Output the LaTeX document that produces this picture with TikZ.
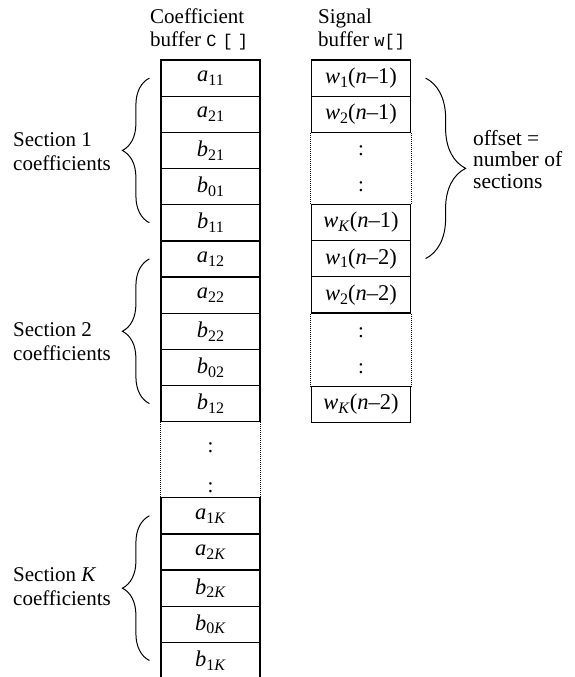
\documentclass[tikz,border=0pt]{standalone}
\usepackage{fontspec}
\setmainfont{Liberation Serif}
\setmonofont{Liberation Mono}
\usetikzlibrary{decorations.pathreplacing}
\newcommand{\lsub}[1]{\raisebox{-3.8pt}{\fontsize{16}{16}\selectfont #1}}
\newcommand{\cv}[2]{\textit{#1}\lsub{#2}}
\newcommand{\wv}[3]{\textit{w}\lsub{#1}(\textit{n}–#2)#3}
\begin{document}
\begin{tikzpicture}[x=1pt,y=-1pt,
  every node/.style={font=\fontsize{21}{23.5}\selectfont},
  cell/.style={draw,line width=1.2pt,minimum width=99pt,minimum height=36.2pt,inner sep=0pt,font=\fontsize{22.5}{23.5}\selectfont},
  dotside/.style={line width=0.9pt,dash pattern=on 0.9pt off 1.1pt},
  brc/.style={decorate,decoration={brace,amplitude=#1},line width=1pt},
  lbl/.style={align=left,inner sep=0pt,anchor=base west},
  colon/.style={inner sep=0pt}]
\useasboundingbox (0,0) rectangle (574,677);
\clip (0,0) rectangle (574,677);
% titles (anchor = baseline of last line)
\node[lbl] (tc) at (150,47) {Coefficient\\buffer \texttt{\fontsize{17}{17}\selectfont C\hspace{6pt}[\hspace{5pt}]}};
\node[lbl] (tw) at (318,47) {Signal\\buffer \texttt{\fontsize{17}{17}\selectfont w[]}};
% coefficient buffer
\node[cell] (a11) at (210.5,78.1) {\cv{a}{11}};
\node[cell] (a21) at (210.5,114.3) {\cv{a}{21}};
\node[cell] (b21) at (210.5,150.4) {\cv{b}{21}};
\node[cell] (b01) at (210.5,186.6) {\cv{b}{01}};
\node[cell] (b11) at (210.5,222.8) {\cv{b}{11}};
\node[cell] (a12) at (210.5,258.9) {\cv{a}{12}};
\node[cell] (a22) at (210.5,295.1) {\cv{a}{22}};
\node[cell] (b22) at (210.5,331.3) {\cv{b}{22}};
\node[cell] (b02) at (210.5,367.4) {\cv{b}{02}};
\node[cell] (b12) at (210.5,403.6) {\cv{b}{12}};
\node[colon] (cc1) at (210.5,448) {:};
\node[colon] (cc2) at (210.5,488) {:};
\node[cell] (a1K) at (210.5,515.8) {\cv{a}{1\textit{K}}};
\node[cell] (a2K) at (210.5,552.0) {\cv{a}{2\textit{K}}};
\node[cell] (b2K) at (210.5,588.1) {\cv{b}{2\textit{K}}};
\node[cell] (b0K) at (210.5,624.3) {\cv{b}{0\textit{K}}};
\node[cell] (b1K) at (210.5,660.5) {\cv{b}{1\textit{K}}};
\draw[dotside] (b12.south west) -- (a1K.north west);
\draw[dotside] (b12.south east) -- (a1K.north east);
% signal buffer
\node[cell] (w1a) at (361,78.1) {\wv{1}{1}{}};
\node[cell] (w2a) at (361,114.3) {\wv{2}{1}{}};
\node[colon] (wc1) at (361,151) {:};
\node[colon] (wc2) at (361,187) {:};
\node[cell] (wKa) at (361,222.4) {\wv{\textit{K}}{1}{}};
\node[cell] (w1b) at (361,258.6) {\wv{1}{2}{}};
\node[cell] (w2b) at (361,294.8) {\wv{2}{2}{}};
\node[colon] (wc3) at (361,332.5) {:};
\node[colon] (wc4) at (361,369) {:};
\node[cell] (wKb) at (361,404.3) {\wv{\textit{K}}{2}{}};
\draw[dotside] (w2a.south west) -- (wKa.north west);
\draw[dotside] (w2a.south east) -- (wKa.north east);
\draw[dotside] (w2b.south west) -- (wKb.north west);
\draw[dotside] (w2b.south east) -- (wKb.north east);
% braces
\draw[brc=27pt] ([xshift=-11pt]b11.west) -- ([xshift=-11pt]a11.west);
\draw[brc=27pt] ([xshift=-11pt]b12.west) -- ([xshift=-11pt]a12.west);
\draw[brc=27pt] ([xshift=-11pt]b1K.west) -- ([xshift=-11pt]a1K.west);
\draw[brc=40pt] ([xshift=14.5pt]w1a.east) -- ([xshift=14.5pt]w1b.east);
% labels (anchor = baseline of last line)
\node[lbl] (s1) at (13,170) {Section 1\\coefficients};
\node[lbl] (s2) at (13,360) {Section 2\\coefficients};
\node[lbl] (sK) at (13,605) {Section \textit{K}\\coefficients};
\node[lbl,font=\fontsize{21.5}{21.5}\selectfont] (off) at (473,188) {offset =\\number of\\sections};
\end{tikzpicture}
\end{document}
